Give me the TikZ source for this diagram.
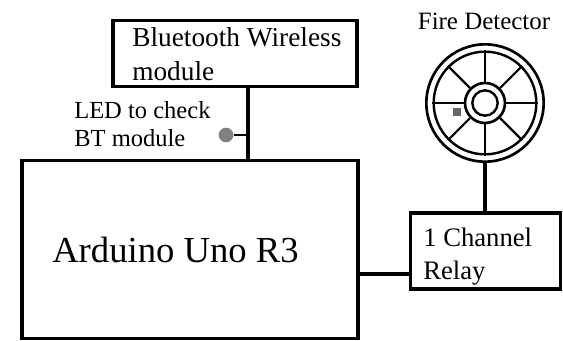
\documentclass[tikz,border=0pt]{standalone}
\usepackage{fontspec}
\setmainfont{Liberation Serif}
\tikzset{
    blockbox/.style={draw=black, line width=2.4pt, inner sep=0pt},
    blocktext/.style={align=left, anchor=west, inner sep=0pt},
    wire/.style={draw=black, line width=2.4pt},
    ring/.style={circle, draw=black, inner sep=0pt},
    spoke/.style={draw=black, line width=1.6pt}
}
\begin{document}
\begin{tikzpicture}[x=0.75pt, y=-0.75pt]

% ============================================================
% Bildausschnitt (563 x 340)
% ============================================================
\useasboundingbox (0,0) rectangle (563,340);

% ============================================================
% Bloecke
% ============================================================
\node[blockbox, minimum width=183pt, minimum height=50pt] (Bluetooth) at (235,53.5) {};
\node[blockbox, minimum width=252pt, minimum height=133pt] (Arduino) at (190,249.5) {};
\node[blockbox, minimum width=113pt, minimum height=57pt] (Relay) at (485.5,251) {};

\node[blocktext, font=\fontsize{20.5pt}{25pt}\selectfont] (BluetoothText) at (132,54)
    {Bluetooth Wireless\\module};
\node[blocktext, font=\fontsize{27.5pt}{32pt}\selectfont] (ArduinoText) at (52,250)
    {Arduino Uno R3};
\node[blocktext, font=\fontsize{20pt}{25pt}\selectfont] (RelayText) at (423,256.5)
    {1 Channel\\Relay};

% ============================================================
% LED
% ============================================================
\node[blocktext, font=\fontsize{18.4pt}{21pt}\selectfont] (LedText) at (74,124)
    {LED to check\\BT module};
\node[circle, fill=black!50, inner sep=0pt, minimum size=11pt] (Led) at (226,135) {};
\coordinate (LedTap) at (248,135);

% ============================================================
% Fire Detector
% ============================================================
\node[anchor=center, inner sep=0pt, font=\fontsize{18.7pt}{21pt}\selectfont] (DetectorText) at (484,21)
    {Fire Detector};
\node[ring, line width=2pt, minimum size=88pt] (Detector) at (485,103) {};
\node[ring, line width=1.8pt, minimum size=77pt] (DetectorIn) at (485,103) {};
\node[ring, line width=2pt, minimum size=30pt] (Hub) at (485,103) {};
\node[ring, line width=1.8pt, minimum size=19pt] (HubIn) at (485,103) {};

\foreach \w in {0,45,...,315}
    \draw[spoke] (Hub.\w) -- (DetectorIn.\w);

\node[rectangle, fill=black!60, inner sep=0pt, minimum size=6pt] (DetectorDot) at (457,112) {};

% ============================================================
% Verbindungen
% ============================================================
\coordinate (RelayTap) at (410,274);
\draw[wire] (Bluetooth.south -| LedTap) -- (Arduino.north -| LedTap);
\draw[black, line width=1.6pt] (Led) -- (LedTap);
\draw[wire] (Detector.south) -- (Relay.north -| Detector.south);
\draw[wire] (Arduino.east |- RelayTap) -- (RelayTap);

\end{tikzpicture}
\end{document}
